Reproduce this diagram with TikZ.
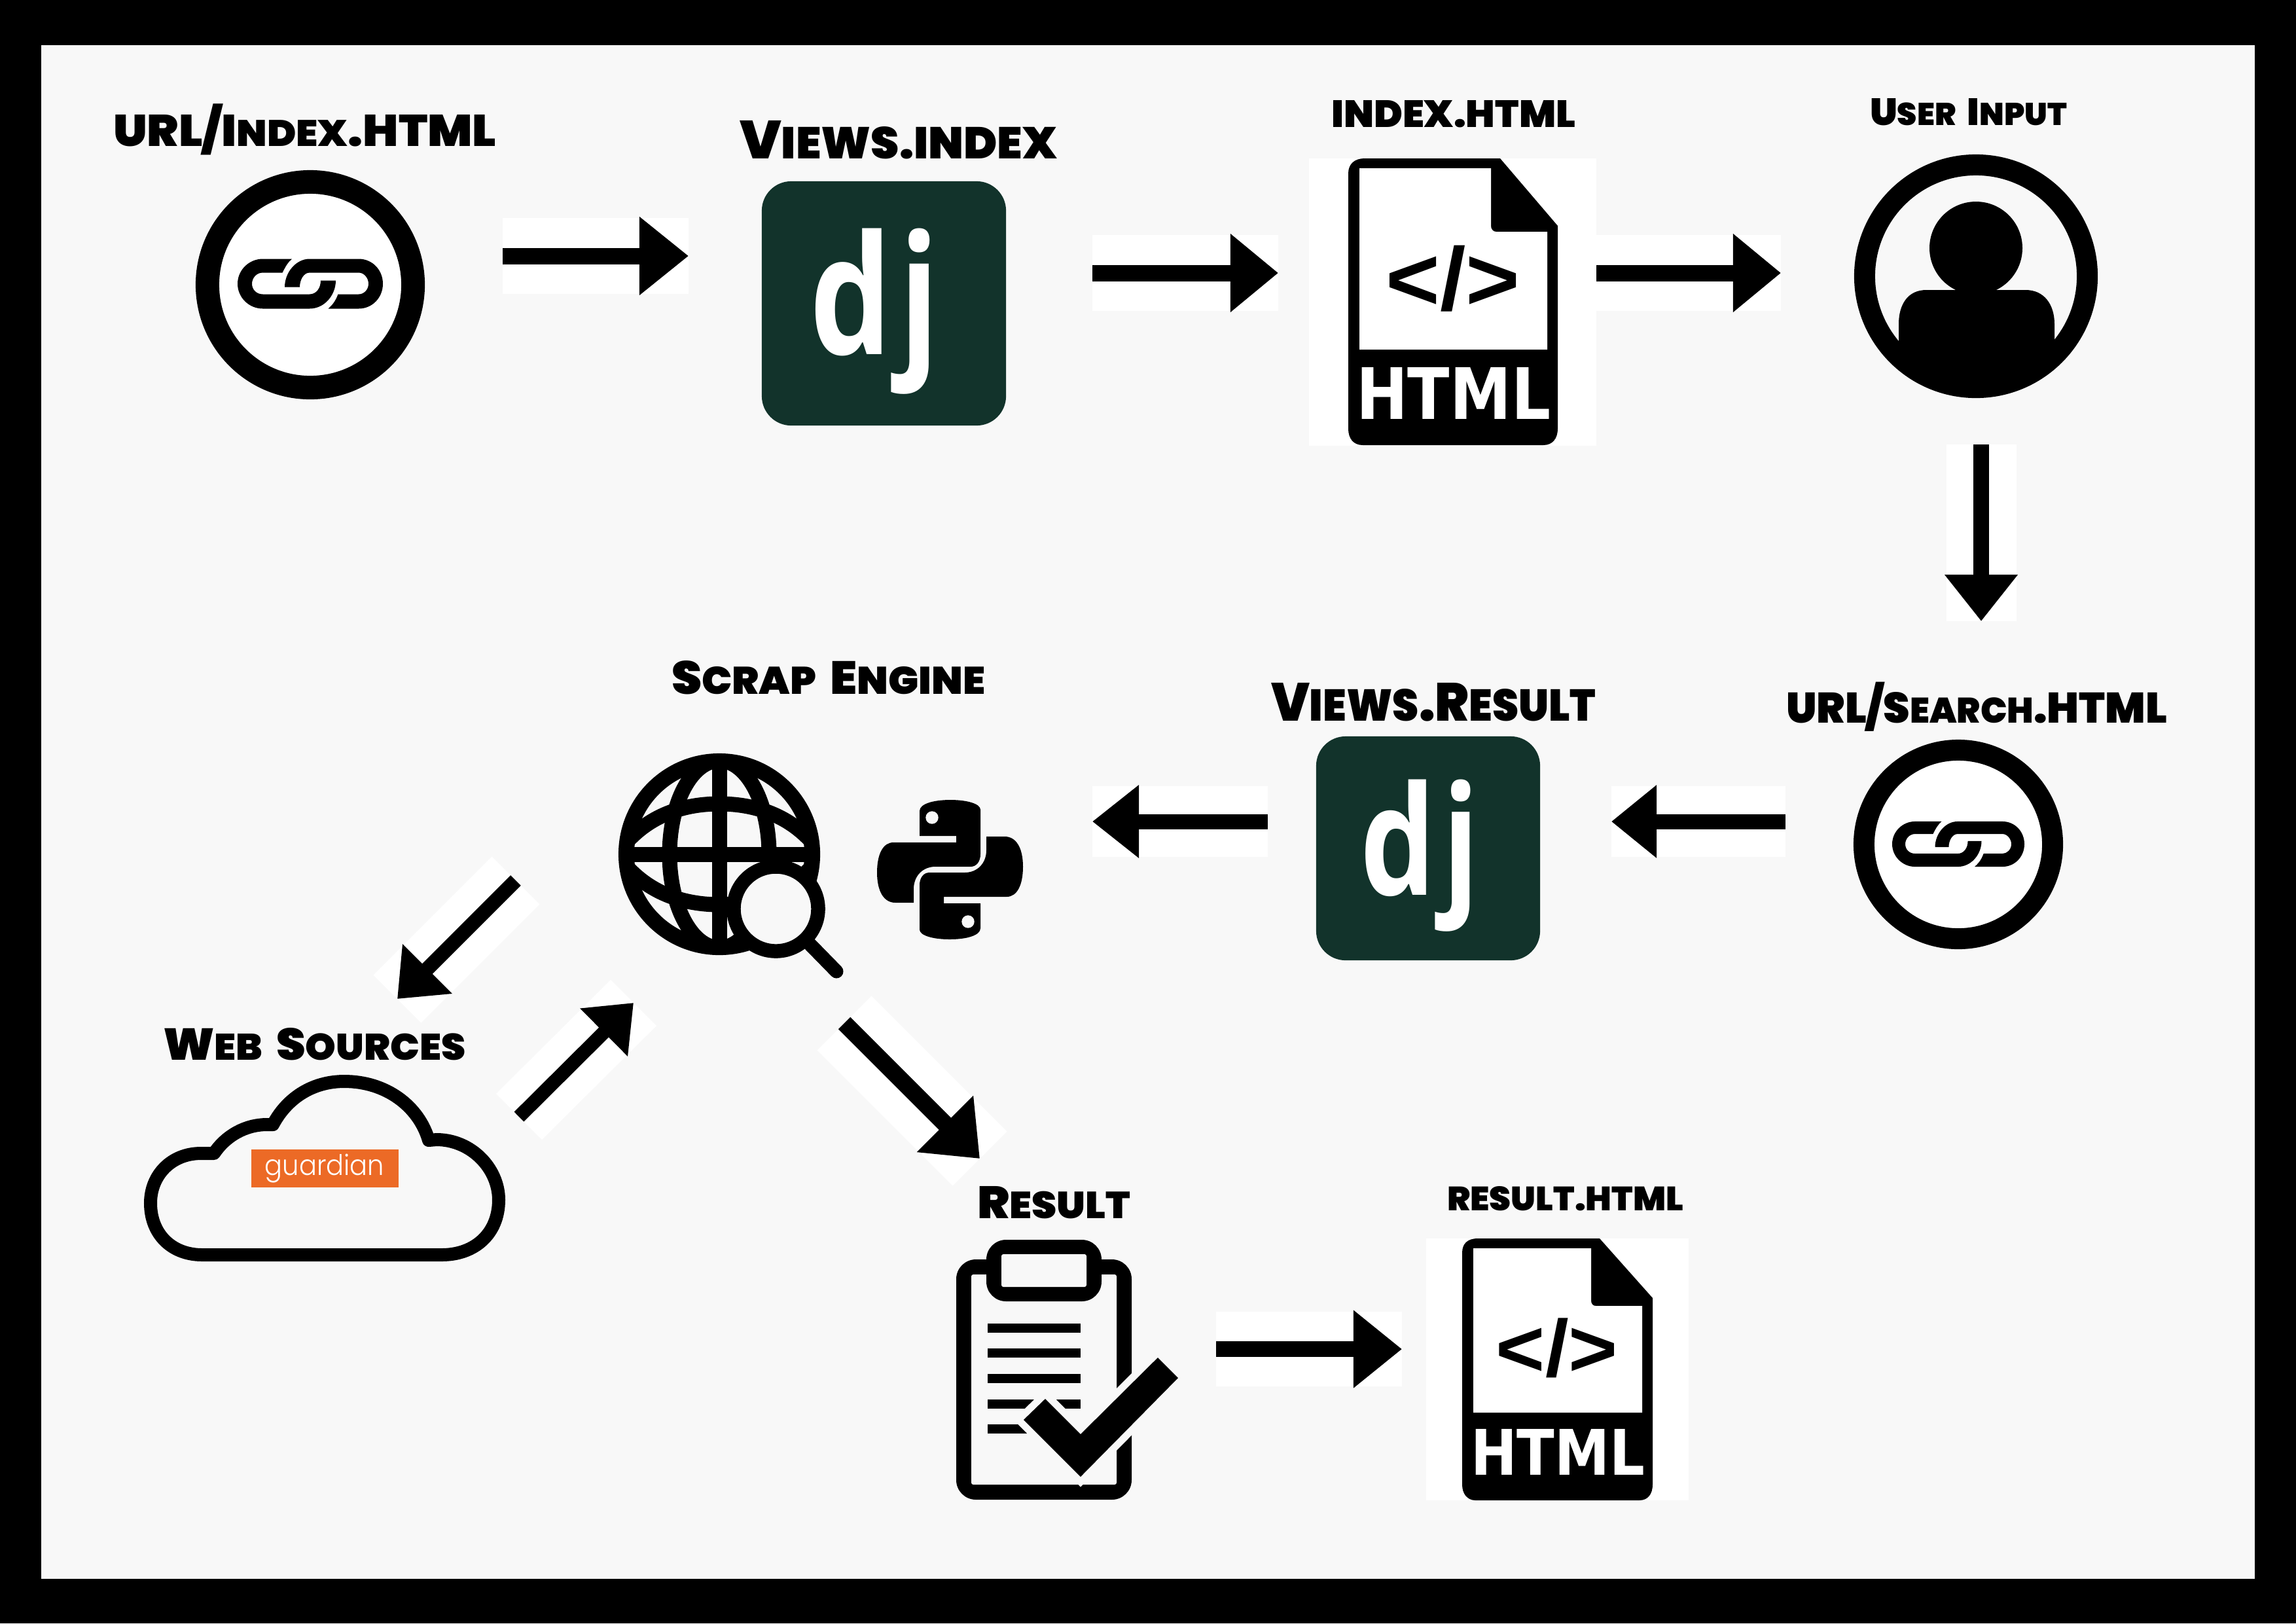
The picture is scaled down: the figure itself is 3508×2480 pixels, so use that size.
\documentclass[tikz,border=0pt]{standalone}
\usepackage{fontspec}
\usepackage{graphicx}
\usetikzlibrary{arrows.meta}
\setmainfont{Liberation Sans}
\newfontfamily\labfont{Poppins Black}
\newfontfamily\djfont{Open Sans}[BoldFont=* Bold]
\newfontfamily\htmlfont{DejaVu Sans}
\newfontfamily\gfont{Poppins Light}
\definecolor{paper}{HTML}{F8F8F8}
\definecolor{djgreen}{HTML}{12332B}
\definecolor{orangeg}{HTML}{EC6A26}
\newcommand\sm[1]{{\fontsize{8.3}{8.3}\selectfont #1}}
\newcommand\slashch{\smash{/}}
\newcommand\wsp{\ \hspace{0.12em}}
% name, x0, base y, width, height, text
\newcommand\lab[6]{\node[labelnode] (#1) at (#2,#3) {\resizebox{#4cm}{#5cm}{\labfont\fontsize{10}{10}\selectfont #6}};}
\newcommand\blockarrow[6]{%
  \coordinate (#1s) at #2; \coordinate (#1e) at #3;
  \draw[white,line width=#4cm] (#1s) -- (#1e);
  \draw[black,line width=#5cm,-{Triangle[length=#6cm,width=#4cm]}] (#1s) -- (#1e);}
\newcommand\linkglyph[3]{%
 \begin{scope}[shift={(#1,#2)},scale=#3]
  \fill[black] (-28,-38) -- (-72.5,-38) .. controls (-93.5,-38) and (-111,-21) .. (-111,0)
   .. controls (-111,21) and (-93.5,38) .. (-72.5,38) -- (-1,38) .. controls (22,38) and (39,17) .. (39,-5)
   -- (16,-5) .. controls (16,7) and (9,16) .. (-1,16) -- (-72.5,16) .. controls (-82,16) and (-89,9) .. (-89,0)
   .. controls (-89,-9) and (-82,-17) .. (-72.5,-17) -- (-42.5,-17) .. controls (-38,-26) and (-34,-33) .. (-28,-38) -- cycle;
  \fill[black] (27.5,38) -- (74,38) .. controls (95,38) and (111,21) .. (111,0)
   .. controls (111,-21) and (95,-38) .. (74,-38) -- (-1,-38) .. controls (-22,-38) and (-39,-17) .. (-39,5)
   -- (-16,5) .. controls (-16,-6) and (-10,-17) .. (-1,-17) -- (74,-17) .. controls (82,-17) and (89,-9) .. (89,0)
   .. controls (89,9) and (82,16) .. (74,16) -- (42.5,16) .. controls (38,28) and (33,33) .. (27.5,38) -- cycle;
 \end{scope}}
\tikzset{
  labelnode/.style={anchor=base west,inner sep=0pt,outer sep=0pt,text=black},
  ring/.style={circle,draw=black,fill=white,inner sep=0pt,outer sep=0pt},
  djbox/.style={rectangle,rounded corners=0.45cm,fill=djgreen,inner sep=0pt,outer sep=0pt},
  djtext/.style={inner sep=0pt,outer sep=0pt,text=white,font=\djfont\bfseries},
  icontext/.style={inner sep=0pt,outer sep=0pt},
}
\begin{document}
\begin{tikzpicture}[x=0.01cm,y=-0.01cm]
\useasboundingbox (0,0) rectangle (3508,2480);
\fill[black] (0,0) rectangle (3508,2480);
\fill[paper] (63,69) rectangle (3445,2412);

% labels
\lab{lurl}{173}{223}{5.85}{0.48}{URL\slashch I\sm{NDEX}.HTML}
\lab{lviews}{1130}{242}{4.85}{0.58}{V\sm{IEWS.INDEX}}
\lab{lindex}{2034}{194}{3.73}{0.41}{INDEX.HTML}
\lab{luser}{2857}{191}{3.01}{0.41}{U\sm{SER}\wsp I\sm{NPUT}}
\lab{lsearch}{2729}{1104}{5.82}{0.47}{URL\slashch S\sm{EARCH}.HTML}
\lab{lvres}{1942}{1101}{4.96}{0.58}{V\sm{IEWS}.R\sm{ESULT}}
\lab{lscrap}{1026}{1060}{4.79}{0.51}{S\sm{CRAP}\wsp E\sm{NGINE}}
\lab{lweb}{249}{1619}{4.62}{0.49}{W\sm{EB}\wsp S\sm{OURCES}}
\lab{lres}{1493}{1861}{2.34}{0.49}{R\sm{ESULT}}
\lab{lrhtml}{2211}{1849}{3.61}{0.37}{RESULT.HTML}

% link 1
\node[ring,line width=0.36cm,minimum size=3.14cm] (link1) at (474,435) {};
\linkglyph{474}{433.5}{1}

% django 1
\node[djbox,minimum size=3.73cm] (dj1) at (1350.5,463.5) {};
\node[djtext] (dj1t) at (1336.5,475.5) {\resizebox*{1.97cm}{2.53cm}{d\kern0.06em j}};

% html file 1
\fill[white] (2000,242) rectangle (2439,681);
\fill[black] (2085,242) -- (2292,242) -- (2380,345) -- (2380,655) .. controls (2380,670) and (2372,680) .. (2358,680)
  -- (2082,680) .. controls (2068,680) and (2060,670) .. (2060,655) -- (2060,265) .. controls (2060,250) and (2070,242) .. (2085,242) -- cycle;
\fill[white] (2077,257) -- (2278,257) -- (2278,345) .. controls (2278,350) and (2281,354) .. (2286,354) -- (2364,354) -- (2364,534) -- (2077,534) -- cycle;
\node[icontext] (code1) at (2220,425.5) {\resizebox*{2.05cm}{1.01cm}{\bfseries </>}};
\node[icontext,anchor=south west,text=white] (html1) at (2072,640) {\resizebox{2.97cm}{0.79cm}{\htmlfont\bfseries HTML}};

% user
\node[circle,draw=black,fill=paper,inner sep=0pt,outer sep=0pt,line width=0.32cm,minimum size=3.40cm] (user) at (3019,422) {};
\begin{scope}
 \clip (3019,422) circle [radius=170];
 \fill[black] (2901,620) -- (2901,495) .. controls (2901,465) and (2915,443) .. (2943,443) -- (3095,443)
   .. controls (3123,443) and (3139,465) .. (3139,495) -- (3139,620) -- cycle;
\end{scope}
\fill[black] (3019,379) circle [radius=71];

% link 2
\node[ring,line width=0.32cm,minimum size=2.88cm] (link2) at (2992,1290) {};
\linkglyph{2992}{1289.5}{0.91}

% django 2
\node[djbox,minimum size=3.42cm] (dj2) at (2182,1296) {};
\node[djtext] (dj2t) at (2169,1307) {\resizebox*{1.81cm}{2.32cm}{d\kern0.06em j}};

% globe
\node[circle,draw=black,inner sep=0pt,outer sep=0pt,line width=0.24cm,minimum size=2.84cm] (globe) at (1099,1305) {};
\begin{scope}[line width=0.23cm,draw=black]
 \clip (1099,1305) circle [radius=145];
 \draw (1099,1305) ellipse [x radius=76,y radius=143];
 \draw (1099,1150) -- (1099,1460);
 \draw (950,1305.5) -- (1250,1305.5);
 \draw (950,1295) .. controls (990,1245) and (1045,1228) .. (1099,1228) .. controls (1153,1228) and (1208,1245) .. (1248,1295);
 \draw (950,1315) .. controls (990,1365) and (1045,1382) .. (1099,1382) .. controls (1153,1382) and (1208,1365) .. (1248,1315);
\end{scope}
\node[circle,draw=black,fill=paper,inner sep=0pt,outer sep=0pt,line width=0.215cm,minimum size=1.29cm] (lens) at (1185.5,1388.5) {};
\draw[black,line width=0.21cm,line cap=round] (1233,1438) -- (1278,1484);

% python
\newcommand\pyhalf{%
 \fill[black] (1405,1277) -- (1461,1277) -- (1461,1287) -- (1365,1287) .. controls (1349,1287) and (1340,1305) .. (1340,1333)
   .. controls (1340,1361) and (1350,1379) .. (1368,1379) -- (1396,1379) -- (1396,1358) .. controls (1396,1338) and (1410,1324) .. (1429,1324)
   -- (1483,1324) .. controls (1492,1324) and (1498,1316) .. (1498,1305) -- (1498,1237) .. controls (1498,1228) and (1478,1222) .. (1452,1222)
   .. controls (1426,1222) and (1405,1228) .. (1405,1239) -- cycle;
 \fill[paper] (1424,1249) circle [radius=9.7];}
\pyhalf
\begin{scope}[rotate around={180:(1451.5,1328.5)}]\pyhalf\end{scope}

% cloud
\draw[black,line width=0.2cm,line join=round] (309,1917) .. controls (262,1917) and (230,1885) .. (230,1838)
  .. controls (230,1795) and (262,1762) .. (307,1762) -- (327,1762) .. controls (345,1735) and (375,1718) .. (408,1718)
  -- (417,1718) .. controls (440,1675) and (480,1652) .. (526,1652) .. controls (590,1652) and (640,1690) .. (655,1742)
  -- (667,1741) .. controls (720,1741) and (762,1785) .. (762,1833) .. controls (762,1885) and (725,1917) .. (675,1917) -- cycle;
\node[fill=orangeg,inner sep=0pt,outer sep=0pt,minimum width=2.25cm,minimum height=0.58cm] (guardbox) at (496.5,1785) {};
\node[icontext,text=white] (guard) at (496,1785) {\resizebox*{1.82cm}{0.44cm}{\gfont guardian}};

% clipboard
\fill[black,rounded corners=0.3cm] (1461,1924) rectangle (1729,2291);
\fill[paper,rounded corners=0.03cm] (1484,1947) rectangle (1706,2268);
\fill[black,rounded corners=0.3cm] (1507,1894) rectangle (1683,1988);
\fill[paper,rounded corners=0.03cm] (1530,1916) rectangle (1660,1966);
\foreach \yy in {2022,2060,2099,2138,2176}
  \fill[black] (1509,\yy) rectangle (1651,\yy+14);
\filldraw[fill=black,draw=paper,line width=0.22cm,line join=miter] (1769,2074) -- (1800,2105) -- (1651,2256) -- (1564,2169) -- (1597,2137) -- (1651,2191) -- cycle;
\fill[black] (1769,2074) -- (1800,2105) -- (1651,2256) -- (1564,2169) -- (1597,2137) -- (1651,2191) -- cycle;

% html file 2
\fill[white] (2179,1892) rectangle (2580,2292);
\fill[black] (2258,1892) -- (2444,1892) -- (2525,1983) -- (2525,2268) .. controls (2525,2282) and (2518,2292) .. (2505,2292)
  -- (2254,2292) .. controls (2242,2292) and (2234,2282) .. (2234,2268) -- (2234,1914) .. controls (2234,1900) and (2242,1892) .. (2258,1892) -- cycle;
\fill[white] (2251,1907) -- (2431,1907) -- (2431,1987) .. controls (2431,1992) and (2434,1995) .. (2438,1995) -- (2509,1995) -- (2509,2158) -- (2251,2158) -- cycle;
\node[icontext] (code2) at (2379,2059.5) {\resizebox*{1.86cm}{0.91cm}{\bfseries </>}};
\node[icontext,anchor=south west,text=white] (html2) at (2247,2253) {\resizebox{2.66cm}{0.70cm}{\htmlfont\bfseries HTML}};

% arrows
\blockarrow{a}{(768,391)}{(1052,391)}{1.15}{0.25}{0.75}
\blockarrow{b}{(1669,417)}{(1953,417)}{1.15}{0.25}{0.73}
\blockarrow{c}{(2439,417)}{(2721,417)}{1.15}{0.25}{0.73}
\blockarrow{d}{(3027,679)}{(3027,949)}{1.07}{0.24}{0.71}
\blockarrow{e}{(2728,1255)}{(2462,1255)}{1.07}{0.23}{0.69}
\blockarrow{f}{(1937,1255)}{(1669,1255)}{1.07}{0.23}{0.71}
\blockarrow{g}{(788,1345)}{(607,1526)}{1.03}{0.22}{0.65}
\blockarrow{h}{(793,1706)}{(968,1532)}{0.99}{0.21}{0.64}
\blockarrow{i}{(1290,1563)}{(1497,1770)}{1.17}{0.26}{0.75}
\blockarrow{j}{(1858,2061)}{(2142,2061)}{1.14}{0.24}{0.74}
\end{tikzpicture}
\end{document}
